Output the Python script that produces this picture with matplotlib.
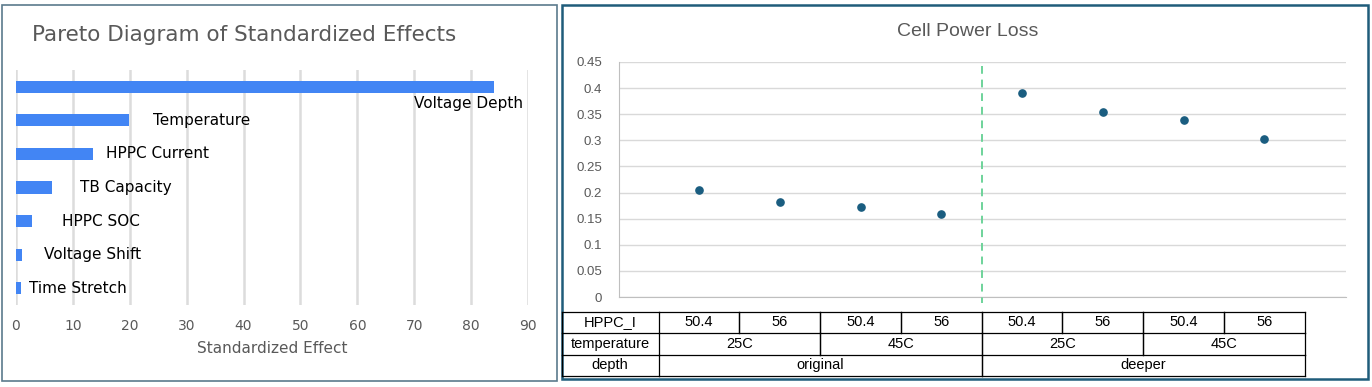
import matplotlib
matplotlib.use("Agg")
import matplotlib.pyplot as plt
from matplotlib.patches import Rectangle
from matplotlib.lines import Line2D
from matplotlib.transforms import blended_transform_factory

# ---------------- data ----------------
effects = ["Voltage Depth", "Temperature", "HPPC Current", "TB Capacity",
           "HPPC SOC", "Voltage Shift", "Time Stretch"]
std_effect = [84.0, 19.8, 13.6, 6.4, 2.8, 1.1, 0.9]
pareto_ticks = [0, 10, 20, 30, 40, 50, 60, 70, 80, 90]

hppc_i = ["50.4", "56", "50.4", "56", "50.4", "56", "50.4", "56"]
temperature = ["25C", "25C", "45C", "45C", "25C", "25C", "45C", "45C"]
depth = ["original"] * 4 + ["deeper"] * 4
power_loss = [0.204, 0.181, 0.173, 0.158, 0.390, 0.354, 0.338, 0.302]
loss_ticks = [0, 0.05, 0.1, 0.15, 0.2, 0.25, 0.3, 0.35, 0.4, 0.45]

# ---------------- layout ----------------
W, H = 1372, 387
fig = plt.figure(figsize=(W / 100, H / 100), dpi=100)
fig.patch.set_facecolor("white")

def fx(px):
    return px / W

def fy(py):
    return 1 - py / H

GRAY = "#595959"
NARROW = ["Liberation Sans Narrow", "Liberation Sans", "DejaVu Sans"]

# panel borders
fig.patches.append(Rectangle((fx(2), fy(381)), fx(555), (381 - 5) / H,
                             transform=fig.transFigure, fill=False,
                             edgecolor="#5b7a8c", lw=1.2))
fig.patches.append(Rectangle((fx(562), fy(379)), fx(806), (379 - 5) / H,
                             transform=fig.transFigure, fill=False,
                             edgecolor="#1f5c7a", lw=1.8))

# ---------------- left: Pareto ----------------
ax1 = fig.add_axes([fx(16), fy(305), fx(528 - 16), (305 - 70) / H])
ypos = list(range(len(effects)))
ax1.barh(ypos, std_effect, height=0.36, color="#4285F4", zorder=3)
ax1.set_xlim(0, 90)
ax1.set_ylim(len(effects) - 0.5, -0.5)
ax1.set_xticks(pareto_ticks)
ax1.set_yticks([])
ax1.grid(axis="x", color="#dcdcdc", lw=1.8, zorder=0)
for s in ax1.spines.values():
    s.set_visible(False)
ax1.tick_params(axis="x", length=0, pad=10, labelsize=10, labelcolor=GRAY)
ax1.set_xlabel("Standardized Effect", fontsize=11, color=GRAY, labelpad=6)

label_x = [70.0, 24.0, 15.8, 11.2, 8.0, 4.9, 2.3]
label_dy = [0.5, 0, 0, 0, 0, 0, 0]
for i, (name, lx, dy) in enumerate(zip(effects, label_x, label_dy)):
    ax1.text(lx, i + dy, name, fontsize=11, color="black",
             va="center", ha="left", zorder=4)

fig.text(fx(32), fy(35), "Pareto Diagram of Standardized Effects",
         fontsize=15.5, color=GRAY, va="center", ha="left")

# ---------------- right: Cell Power Loss ----------------
ax2 = fig.add_axes([fx(619), fy(297), fx(1346 - 619), (297 - 62) / H])
xs = list(range(len(power_loss)))
ax2.plot(xs, power_loss, "o", color="#1a5d80", ms=5.2, zorder=4)
ax2.set_xlim(-0.99, 8.01)
ax2.set_ylim(0, 0.45)
ax2.set_yticks(loss_ticks)
ax2.set_yticklabels([f"{t:g}" for t in loss_ticks], family=NARROW)
ax2.set_xticks([])
ax2.grid(axis="y", color="#d9d9d9", lw=1, zorder=0)
for k in ("top", "right"):
    ax2.spines[k].set_visible(False)
for k in ("left", "bottom"):
    ax2.spines[k].set_color("#bfbfbf")
ax2.tick_params(axis="y", length=0, pad=12, labelsize=9.5, labelcolor=GRAY)

# divider between depth groups
n_orig = depth.count("original")
bt = blended_transform_factory(ax2.transData, fig.transFigure)
ax2.add_line(Line2D([n_orig - 0.5, n_orig - 0.5], [fy(66), fy(303)],
                    transform=bt, color="#6ed39a", lw=1.4,
                    ls=(0, (4, 3)), clip_on=False, zorder=3))

fig.text(fx(968), fy(32), "Cell Power Loss", fontsize=14, color=GRAY,
         va="center", ha="center", family=NARROW)

# ---------------- data table ----------------
rows_y = [fy(312), fy(333), fy(355), fy(376)]
left_px = fx(562)
x_left_data = -0.5
x_right_data = len(hppc_i) - 0.5

for y in rows_y:
    fig.lines.append(Line2D([left_px, ax2.transData.transform((x_left_data, 0))[0] / W],
                            [y, y], transform=fig.transFigure, color="black", lw=0.9))
    ax2.add_line(Line2D([x_left_data, x_right_data], [y, y], transform=bt,
                        color="black", lw=0.9, clip_on=False))

def runs(vals):
    out = []
    start = 0
    for i in range(1, len(vals) + 1):
        if i == len(vals) or vals[i] != vals[start]:
            out.append((start, i - 1, vals[start]))
            start = i
    return out

row_defs = [("HPPC_I", hppc_i), ("temperature", temperature), ("depth", depth)]
header_cx = (fx(562) + fx(658.5)) / 2
for r, (hdr, vals) in enumerate(row_defs):
    y0, y1 = rows_y[r], rows_y[r + 1]
    yc = (y0 + y1) / 2
    fig.text(header_cx, yc, hdr, fontsize=10.5, family=NARROW,
             ha="center", va="center", color="black")
    for (a, b, v) in runs(vals):
        ax2.text((a + b) / 2, yc, v, transform=bt, fontsize=10.5,
                 family=NARROW, ha="center", va="center", color="black",
                 clip_on=False)
        for xb in (a - 0.5, b + 0.5):
            ax2.add_line(Line2D([xb, xb], [y0, y1], transform=bt,
                                color="black", lw=0.9, clip_on=False))
    fig.lines.append(Line2D([left_px, left_px], [y0, y1],
                            transform=fig.transFigure, color="black", lw=0.9))

fig.savefig("out.png", dpi=100, facecolor="white")
